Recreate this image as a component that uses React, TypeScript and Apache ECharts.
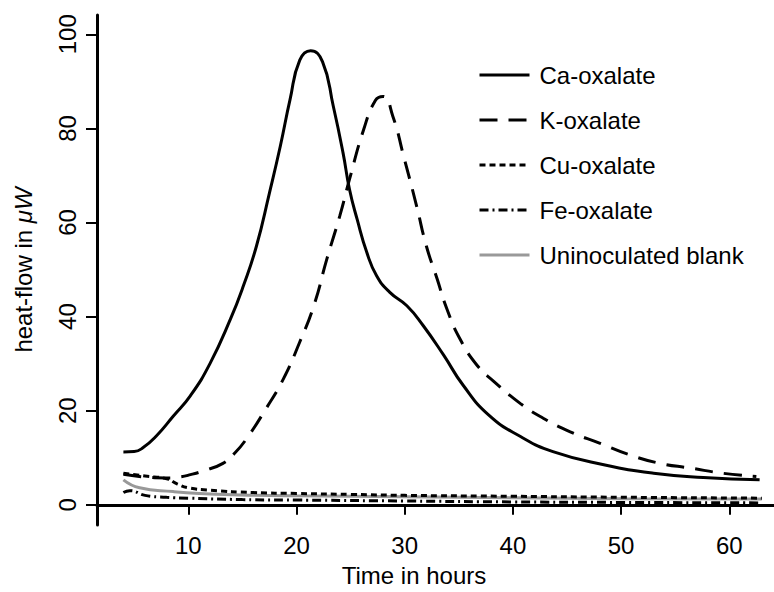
import React, { useEffect, useRef } from "react";
import * as echarts from "echarts";

const FONT = "'Liberation Sans', Arial, Helvetica, sans-serif";

const seriesNames = ["Ca-oxalate", "K-oxalate", "Cu-oxalate", "Fe-oxalate", "Uninoculated blank"];

const xTicks = [10, 20, 30, 40, 50, 60];
const yTicks = [0, 20, 40, 60, 80, 100];

const caTime = [4.0, 5.0, 5.8, 7.0, 8.6, 10.2, 12.0, 13.9, 15.1, 16.3, 17.5, 18.5, 19.4, 20.3, 21.3, 22.4, 23.4, 24.3, 24.9, 25.6, 26.5, 27.4, 28.6, 30.2, 31.7, 33.6, 35.4, 37.8, 40.7, 43.7, 48.4, 53.0, 57.6, 62.8];
const caFlow = [11.2, 11.3, 12.1, 14.5, 18.8, 23.2, 30.0, 39.5, 46.6, 55.0, 66.3, 76.2, 86.1, 94.5, 96.5, 94.2, 84.7, 74.8, 67.0, 60.7, 53.6, 48.7, 45.2, 42.3, 38.1, 31.8, 25.4, 19.0, 14.5, 11.3, 8.5, 6.7, 5.8, 5.3];

const kTime = [4.0, 6.0, 8.0, 9.2, 10.2, 11.5, 13.2, 14.3, 15.4, 17.2, 18.8, 20.3, 21.6, 22.8, 24.0, 24.9, 26.2, 27.3, 28.0, 28.9, 29.9, 31.1, 32.0, 33.0, 33.9, 35.1, 36.7, 38.2, 40.7, 42.8, 45.3, 48.0, 50.8, 53.6, 56.4, 59.4, 62.5];
const kFlow = [6.5, 5.9, 5.7, 5.9, 6.4, 7.3, 8.8, 11.0, 14.1, 20.5, 26.8, 34.6, 42.3, 52.2, 61.4, 69.2, 79.7, 86.0, 86.8, 82.6, 74.1, 63.5, 55.0, 48.0, 41.6, 35.3, 29.6, 26.3, 21.5, 18.4, 15.5, 13.1, 10.6, 8.8, 7.8, 6.7, 6.0];

const cuTime = [4.0, 6.0, 8.0, 9.0, 10.0, 12.0, 16.0, 20.0, 25.0, 30.0, 40.0, 50.0, 63.0];
const cuFlow = [6.7, 6.1, 5.5, 4.4, 3.6, 3.1, 2.6, 2.4, 2.2, 2.0, 1.8, 1.6, 1.4];

const feTime = [4.0, 4.6, 6.0, 8.0, 10.0, 15.0, 20.0, 30.0, 40.0, 50.0, 63.0];
const feFlow = [2.6, 3.0, 2.0, 1.6, 1.4, 1.1, 1.0, 0.8, 0.6, 0.5, 0.4];

const blankTime = [4.0, 5.5, 8.6, 11.0, 14.8, 20.0, 30.0, 40.0, 50.0, 63.0];
const blankFlow = [5.3, 3.6, 2.8, 2.4, 2.1, 1.9, 1.7, 1.5, 1.3, 1.2];

const pairs = (xs: number[], ys: number[]) => xs.map((x, i) => [x, ys[i]]);

export default function App() {
  const ref = useRef<HTMLDivElement>(null);
  useEffect(() => {
    if (!ref.current) return;
    const chart = echarts.init(ref.current, undefined, { renderer: "svg" });
    const mk = (name: string, data: number[][], color: string, type: any, width: number) => ({
      name,
      type: "line",
      data,
      symbol: "none",
      showSymbol: false,
      smooth: 0.5,
      lineStyle: { color, type, width },
      itemStyle: { color },
      emphasis: { disabled: true },
    });
    chart.setOption({
      animation: false,
      textStyle: { fontFamily: FONT, color: "#000" },
      grid: { left: 97, top: 15, right: 0, bottom: 65, containLabel: false },
      legend: {
        orient: "vertical",
        left: 473,
        top: 58,
        itemWidth: 50,
        itemHeight: 14,
        itemGap: 21,
        itemStyle: { opacity: 0 },
        lineStyle: { width: 3 },
        textStyle: { fontSize: 24, fontFamily: FONT, color: "#000", padding: [0, 0, 0, 5] },
        data: seriesNames,
      },
      xAxis: {
        type: "value",
        min: 1.56,
        max: 64.13,
        name: "Time in hours",
        nameLocation: "middle",
        nameGap: 38,
        nameTextStyle: { fontSize: 24, fontFamily: FONT, color: "#000", padding: [0, 43, 0, 0] },
        axisLine: { show: true, lineStyle: { color: "#000", width: 3 } },
        axisTick: { show: true, length: 10, lineStyle: { color: "#000", width: 2 }, customValues: xTicks },
        axisLabel: { fontSize: 24, color: "#000", fontFamily: FONT, margin: 8, customValues: xTicks },
        splitLine: { show: false },
      },
      yAxis: {
        type: "value",
        min: -4.3,
        max: 104.1,
        name: "{n|heat-flow in }{i|μW}",
        nameLocation: "middle",
        nameGap: 62,
        nameRotate: 90,
        nameTextStyle: {
          color: "#000",
          rich: {
            n: { fontSize: 24, fontFamily: FONT, color: "#000" },
            i: { fontSize: 24, fontFamily: FONT, fontStyle: "italic", color: "#000" },
          },
        },
        axisLine: { show: true, lineStyle: { color: "#000", width: 3 } },
        axisTick: { show: true, length: 11, lineStyle: { color: "#000", width: 2 }, customValues: yTicks },
        axisLabel: { fontSize: 24, color: "#000", fontFamily: FONT, rotate: 90, margin: 18, customValues: yTicks },
        splitLine: { show: false },
      },
      series: [
        mk(seriesNames[4], pairs(blankTime, blankFlow), "#999999", "solid", 3),
        mk(seriesNames[3], pairs(feTime, feFlow), "#000000", [9, 4, 2, 4], 3),
        mk(seriesNames[2], pairs(cuTime, cuFlow), "#000000", [6, 4], 3),
        mk(seriesNames[1], pairs(kTime, kFlow), "#000000", [18, 11], 3),
        mk(seriesNames[0], pairs(caTime, caFlow), "#000000", "solid", 3),
      ],
    });
    return () => chart.dispose();
  }, []);
  return (
    <div
      ref={ref}
      style={{ position: "fixed", left: 0, top: 0, width: 774, height: 592, background: "#fff" }}
    />
  );
}
